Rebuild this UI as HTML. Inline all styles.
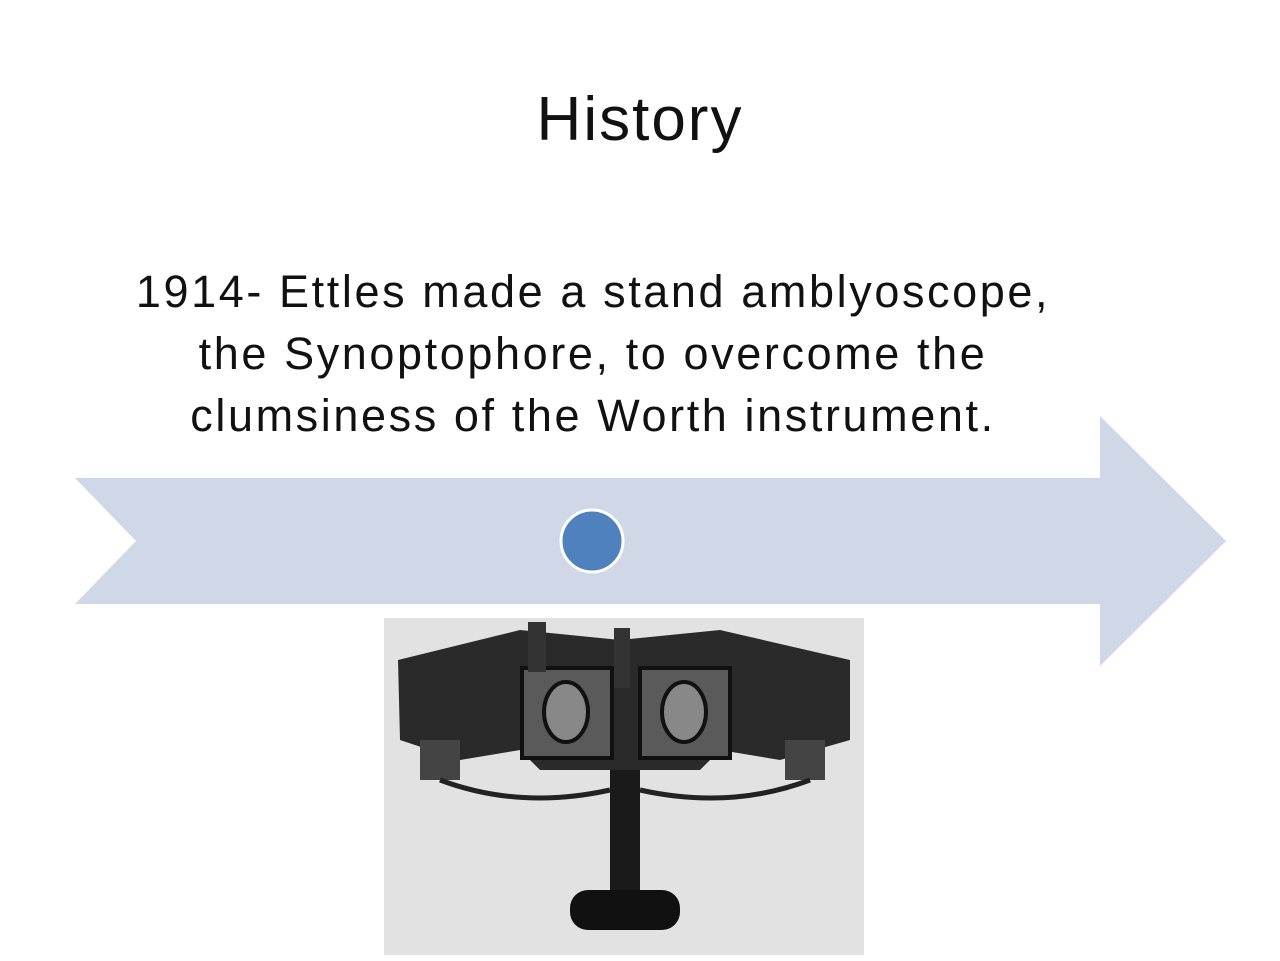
<!DOCTYPE html>
<html><head><meta charset="utf-8"><style>
body{margin:0;width:1280px;height:961px;background:#fff;overflow:hidden;font-family:"Liberation Sans",sans-serif;position:relative}
.t{position:absolute;left:0;width:1280px;text-align:center;color:#111}
</style></head><body>
<div class="t" style="top:84px;font-size:62px;letter-spacing:2px;">History</div>
<div class="t" style="left:40px;width:1106px;top:261px;font-size:45px;line-height:62px;letter-spacing:2.6px;">1914- Ettles made a stand amblyoscope,<br>the Synoptophore, to overcome the<br>clumsiness of the Worth instrument.</div>
<svg width="1280" height="961" style="position:absolute;left:0;top:0">
<polygon points="75,478 1100,478 1100,416 1226,541 1100,666 1100,604 75,604 136,541" fill="#d0d8e8"/>
<circle cx="592" cy="541" r="31" fill="#4f81bd" stroke="#fff" stroke-width="3"/>
<g>
<rect x="384" y="618" width="480" height="337" fill="#e2e2e2"/>
<polygon points="398,660 520,630 620,640 720,630 850,660 850,740 780,760 720,750 700,770 540,770 520,750 460,760 400,740" fill="#2a2a2a"/>
<rect x="522" y="668" width="90" height="90" fill="#5a5a5a" stroke="#111" stroke-width="4"/>
<rect x="640" y="668" width="90" height="90" fill="#5a5a5a" stroke="#111" stroke-width="4"/>
<ellipse cx="566" cy="712" rx="22" ry="30" fill="#888" stroke="#111" stroke-width="4"/>
<ellipse cx="684" cy="712" rx="22" ry="30" fill="#888" stroke="#111" stroke-width="4"/>
<rect x="528" y="622" width="18" height="50" fill="#333"/>
<rect x="614" y="628" width="16" height="60" fill="#333"/>
<rect x="610" y="770" width="30" height="130" fill="#1a1a1a"/>
<rect x="570" y="890" width="110" height="40" rx="18" fill="#111"/>
<rect x="420" y="740" width="40" height="40" fill="#444"/>
<rect x="785" y="740" width="40" height="40" fill="#444"/>
<path d="M440 780 Q520 810 610 790 M810 780 Q730 810 640 790" stroke="#222" stroke-width="5" fill="none"/>
</g>
</svg>
</body></html>
